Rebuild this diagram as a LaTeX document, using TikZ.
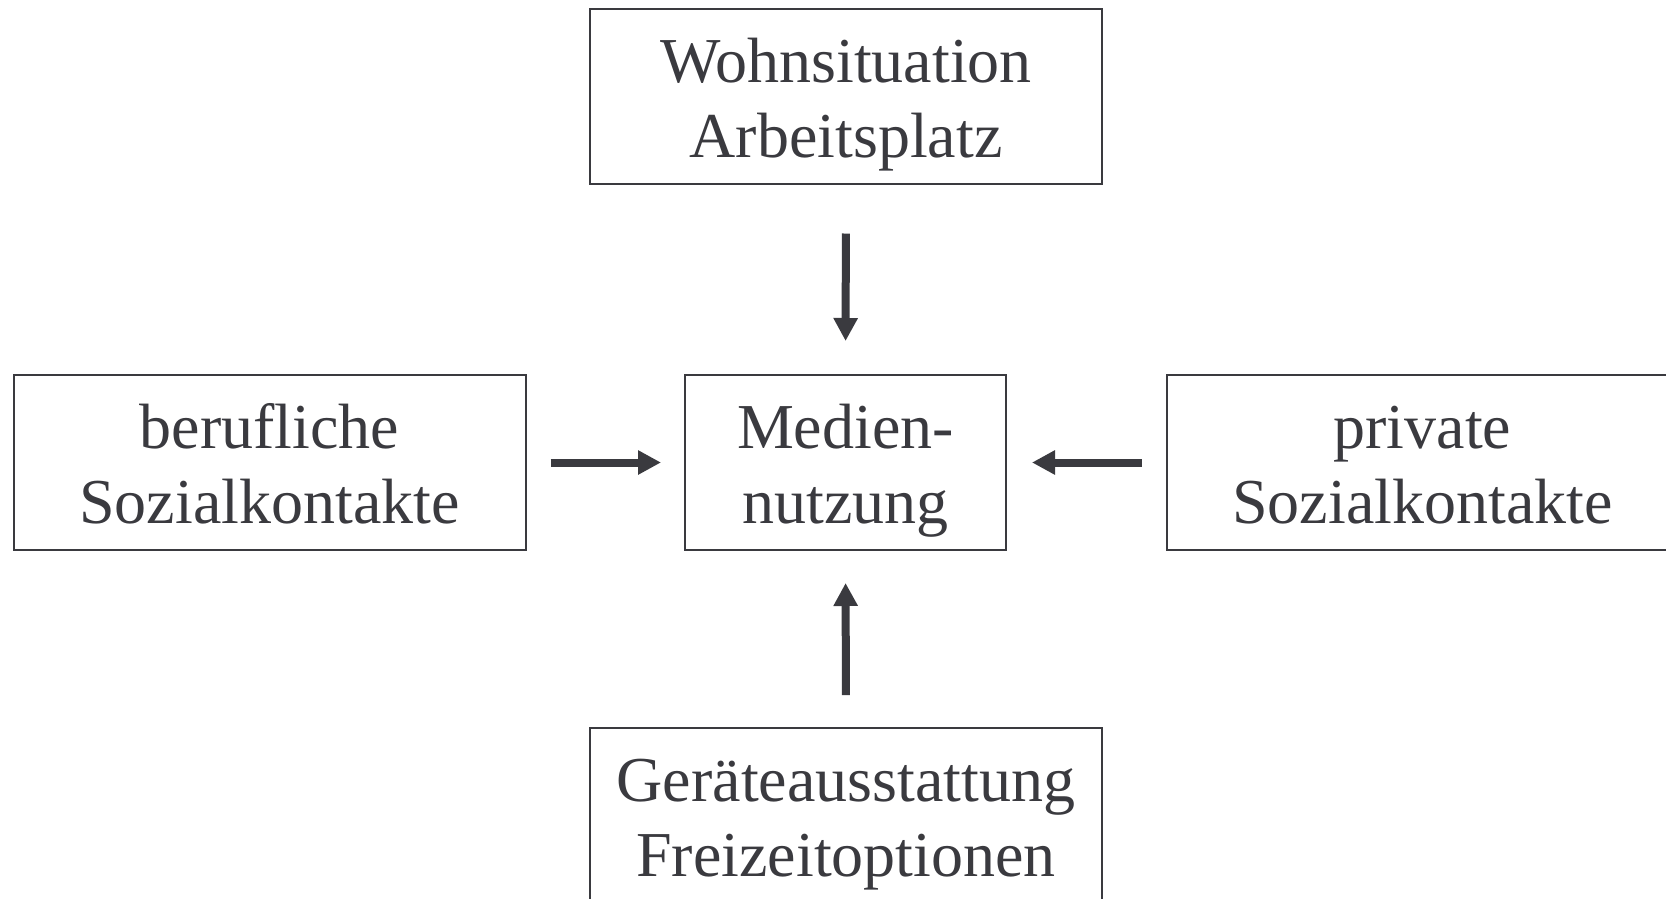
\documentclass[tikz,border=0pt]{standalone}
\usepackage{fontspec}
\setmainfont{Liberation Serif}
\usetikzlibrary{arrows.meta}
\definecolor{ink}{RGB}{58,58,63}
\begin{document}
\begin{tikzpicture}[x=1pt,y=-1pt,
  box/.style={draw=ink,line width=2pt,inner sep=0pt,align=center,
    text=ink,font=\fontsize{64}{75}\selectfont,minimum height=175pt,
    text height=136pt,text depth=14pt},
  wide/.style={box,minimum width=512pt},
  arr/.style={draw=ink,line width=8pt,-{Triangle[width=23pt,length=23pt]}}]
\useasboundingbox (0,0) rectangle (1666,898);
\clip (0,0) rectangle (1666,898);
\node[wide] (top) at (846,96) {Wohnsituation\\Arbeitsplatz};
\node[box,minimum width=321pt] (mid) at (845.5,462.5) {Medien-\\nutzung};
\node[wide] (left) at (269.5,462.5) {berufliche\\Sozialkontakte};
\node[wide] (right) at (1422.5,462.5) {private\\Sozialkontakte};
\node[wide] (bottom) at (846,815.5) {Geräteausstattung\\Freizeitoptionen};
\draw[arr,shorten <=49pt,shorten >=33pt] (top.south) -- (mid.north);
\draw[arr,shorten <=32pt,shorten >=32pt] (bottom.north) -- (mid.south);
\draw[arr,shorten <=24pt,shorten >=23pt] (left.east) -- (mid.west);
\draw[arr,shorten <=24pt,shorten >=25pt] (right.west) -- (mid.east);
\end{tikzpicture}
\end{document}
